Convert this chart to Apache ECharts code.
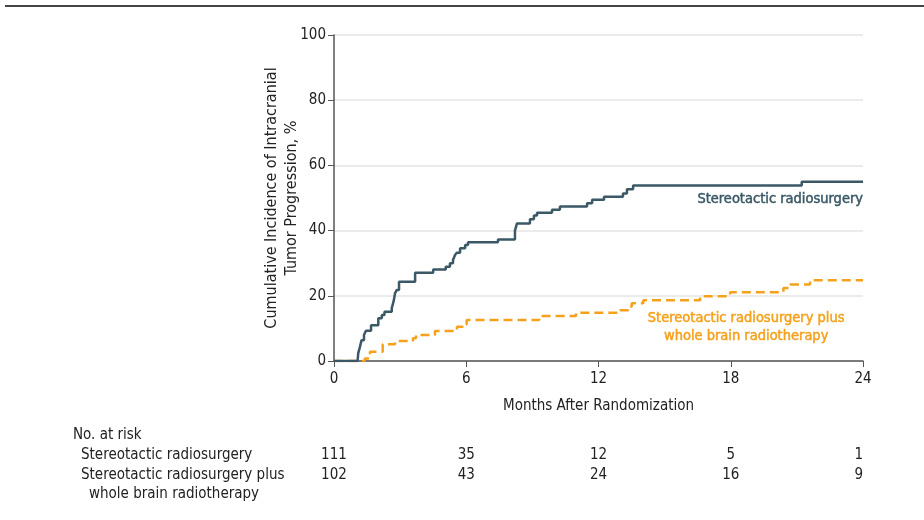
<!DOCTYPE html>
<html>
<head>
<meta charset="utf-8">
<script src="https://cdn.jsdelivr.net/npm/echarts@6/dist/echarts.min.js"></script>
<style>
  html, body { margin: 0; padding: 0; background: #fff; }
  #main { width: 924px; height: 520px; }
</style>
</head>
<body>
<div id="main"></div>
<script>
// months after randomization, cumulative incidence %
const srsData = [
  [0, 0], [1.07, 0], [1.1, 2.4], [1.18, 4.4], [1.25, 6.4], [1.36, 8], [1.45, 9.3],
  [1.68, 11], [2.01, 13.1], [2.17, 14.1], [2.29, 15.1], [2.62, 16.2], [2.7, 18.2],
  [2.77, 20.8], [2.85, 21.8], [2.95, 24.3], [3.68, 27.1], [4.5, 28.1], [5.07, 28.9],
  [5.26, 30], [5.4, 31], [5.49, 32.5], [5.57, 33.2], [5.72, 34.6], [5.95, 35.6],
  [6.08, 36.4], [7.44, 37.3], [8.21, 40], [8.3, 42.2], [8.89, 43.5], [9.07, 44.6],
  [9.21, 45.5], [9.89, 46.4], [10.25, 47.4], [11.48, 48.4], [11.71, 49.5],
  [12.25, 50.4], [13.11, 51.4], [13.29, 52.7], [13.57, 53.8], [21.22, 55.0], [24, 55.0]
];
const wbrtData = [
  [0, 0], [1.38, 0], [1.41, 0.8], [1.63, 2.8], [2.21, 5.1], [2.77, 6.1], [3.58, 7.0],
  [3.72, 8.0], [4.58, 9.2], [5.58, 10.5], [5.84, 11.3], [6.02, 12.6], [9.31, 13.8],
  [10.98, 14.8], [12.98, 15.6], [13.35, 16.7], [13.51, 17.7], [14.03, 18.6],
  [16.61, 19.9], [17.97, 21.1], [20.39, 22.4], [20.69, 23.5], [21.6, 24.8], [24, 24.8]
];
const riskMonths = [0, 6, 12, 18, 24];
const srsRisk = [111, 35, 12, 5, 1];
const wbrtRisk = [102, 43, 24, 16, 9];

const blue = '#3b5866';
const orange = '#f5a11c';
const font = '"Liberation Sans Narrow", "DejaVu Sans Condensed", sans-serif';

const chart = echarts.init(document.getElementById('main'));
chart.setOption({
  animation: false,
  grid: { left: 334, right: 61, top: 35, bottom: 159 },
  xAxis: {
    type: 'value', min: 0, max: 24, interval: 6,
    name: 'Months After Randomization', nameLocation: 'middle', nameGap: 38,
    nameTextStyle: { color: '#222', fontSize: 15, fontFamily: font },
    axisLine: { lineStyle: { color: '#555', width: 1.5 } },
    axisTick: { length: 6, lineStyle: { color: '#555' } },
    axisLabel: { color: '#222', fontSize: 15, fontFamily: font, margin: 11 },
    splitLine: { show: false }
  },
  yAxis: {
    type: 'value', min: 0, max: 100, interval: 20,
    name: 'Cumulative Incidence of Intracranial\nTumor Progression, %',
    nameLocation: 'middle', nameGap: 32, nameMoveOverlap: false,
    nameTextStyle: { color: '#222', fontSize: 16, fontFamily: font, lineHeight: 20 },
    axisLine: { show: true, lineStyle: { color: '#555', width: 1.5 } },
    axisTick: { show: true, length: 6, lineStyle: { color: '#555' } },
    axisLabel: { color: '#222', fontSize: 15, fontFamily: font, margin: 8 },
    splitLine: { lineStyle: { color: '#e4e4e4', width: 1.5 } }
  },
  series: [
    {
      name: 'Stereotactic radiosurgery', type: 'line', step: 'end',
      data: srsData, showSymbol: false, z: 3,
      lineStyle: { color: blue, width: 2.5 }
    },
    {
      name: 'Stereotactic radiosurgery plus whole brain radiotherapy', type: 'line', step: 'end',
      data: wbrtData, showSymbol: false, z: 2,
      lineStyle: { color: orange, width: 2.5, type: [9, 5] }
    }
  ]
});

function drawGraphics() {
  const xPix = m => chart.convertToPixel({ xAxisIndex: 0 }, m);
  const yPix = v => chart.convertToPixel({ yAxisIndex: 0 }, v);
  const els = [];
  els.push({
    type: 'line', shape: { x1: 5, y1: 6, x2: 924, y2: 6 },
    style: { stroke: '#444', lineWidth: 2 }
  });
  const labelFont = '14.5px ' + font;
  els.push({
    type: 'text', x: xPix(24), y: yPix(49.6),
    style: { text: 'Stereotactic radiosurgery', fill: blue, font: labelFont,
      stroke: blue, lineWidth: 0.5, align: 'right', verticalAlign: 'middle' }
  });
  els.push({
    type: 'text', x: xPix(18.7), y: yPix(10.4),
    style: { text: 'Stereotactic radiosurgery plus\nwhole brain radiotherapy', fill: orange,
      stroke: orange, lineWidth: 0.5, font: labelFont, align: 'center',
      verticalAlign: 'middle', lineHeight: 18 }
  });
  const rowStyle = { fill: '#222', font: '15px ' + font, verticalAlign: 'middle' };
  els.push({ type: 'text', x: 73, y: 435, style: Object.assign({ text: 'No. at risk', align: 'left' }, rowStyle) });
  els.push({ type: 'text', x: 81, y: 455, style: Object.assign({ text: 'Stereotactic radiosurgery', align: 'left' }, rowStyle) });
  els.push({ type: 'text', x: 81, y: 475, style: Object.assign({ text: 'Stereotactic radiosurgery plus', align: 'left' }, rowStyle) });
  els.push({ type: 'text', x: 89, y: 494, style: Object.assign({ text: 'whole brain radiotherapy', align: 'left' }, rowStyle) });
  riskMonths.forEach((m, i) => {
    const align = i === riskMonths.length - 1 ? 'right' : 'center';
    const x = xPix(m);
    els.push({ type: 'text', x: x, y: 455, style: Object.assign({ text: String(srsRisk[i]), align: align }, rowStyle) });
    els.push({ type: 'text', x: x, y: 475, style: Object.assign({ text: String(wbrtRisk[i]), align: align }, rowStyle) });
  });
  chart.setOption({ graphic: els });
}
drawGraphics();
</script>
</body>
</html>
